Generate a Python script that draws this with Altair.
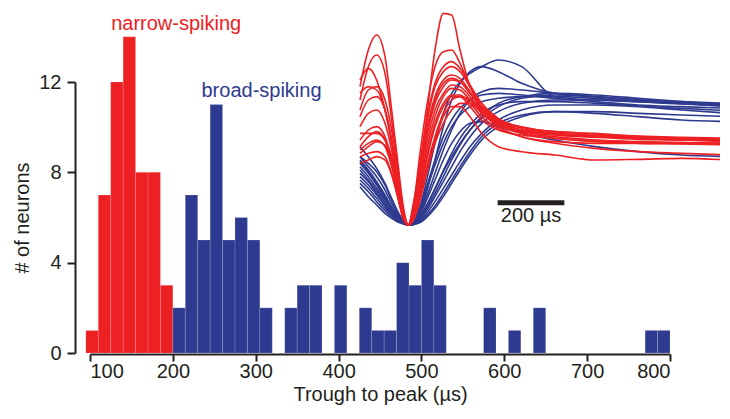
import altair as alt
import pandas as pd

RED = "#ED2024"
BLUE = "#2E3A8F"
FONT = "Liberation Sans"

# ---- histogram data (15 µs bins) ----
BIN_WIDTH = 15
red_bin_start = [95, 110, 125, 140, 155, 170, 185]
red_counts = [1, 7, 12, 14, 8, 8, 3]
blue_bin_start = [200, 215, 230, 245, 260, 275, 290, 305, 335, 350, 365, 395,
                  425, 440, 455, 470, 485, 500, 515, 575, 605, 635, 770, 785]
blue_counts = [2, 7, 5, 11, 5, 6, 5, 2, 2, 3, 3, 3,
               2, 1, 1, 4, 3, 5, 3, 2, 1, 2, 1, 1]

x_ticks = [100, 200, 300, 400, 500, 600, 700, 800]
y_ticks = [0, 4, 8, 12]

# ---- inset waveforms (time in µs relative to trough, amplitude in a.u.) ----
T_US = [-145, -120, -95, -70, -50, -30, -15, 0, 15, 35, 55, 80, 105, 130, 155,
        185, 220, 270, 340, 440, 560, 690, 820, 965]

RED_WAVES = [
    [190, 300, 345, 280, 120, -50, -170, -225, -160, -50, 100, 300, 410, 405, 300, 190, 130, 90, 70, 55, 50, 40, 35, 30],
    [150, 250, 285, 230, 90, -70, -180, -225, -170, -10, 130, 250, 295, 300, 260, 190, 130, 80, 55, 45, 40, 35, 30, 25],
    [210, 245, 210, 120, 20, -100, -190, -225, -180, -50, 80, 190, 235, 250, 235, 190, 140, 90, 60, 50, 45, 40, 35, 32],
    [70, 110, 120, 80, 0, -110, -190, -225, -190, -80, 40, 140, 190, 210, 205, 170, 130, 90, 65, 50, 40, 35, 30, 30],
    [30, 60, 70, 40, -30, -120, -195, -225, -200, -110, 0, 100, 160, 185, 180, 150, 110, 75, 50, 40, 30, 25, 22, 20],
    [0, 20, 30, 10, -50, -135, -200, -225, -205, -130, -30, 70, 130, 160, 160, 130, 90, 60, 45, 35, 25, 20, 18, 15],
    [-20, -10, -5, -20, -70, -145, -205, -225, -210, -150, -60, 30, 100, 130, 130, 100, 50, 10, -5, -15, -30, -28, -25, -30],
    [50, 50, 50, 30, -20, -110, -190, -225, -210, -150, -70, 20, 80, 120, 140, 140, 110, 70, 40, 25, 20, 20, 20, 20],
    [170, 190, 180, 120, 30, -90, -185, -225, -185, -60, 60, 160, 210, 225, 215, 175, 120, 80, 55, 45, 38, 32, 30, 25],
    [10, 40, 55, 30, -40, -125, -198, -225, -195, -95, 20, 120, 170, 195, 190, 160, 115, 80, 58, 48, 42, 38, 35, 32],
    [100, 150, 160, 120, 30, -95, -185, -225, -188, -70, 50, 150, 200, 215, 205, 170, 125, 85, 60, 48, 40, 35, 32, 28],
    [-40, -30, -20, -30, -75, -150, -208, -225, -208, -140, -50, 40, 110, 150, 160, 150, 120, 80, 50, 35, 28, 24, 22, 20],
    [120, 180, 190, 150, 60, -70, -180, -225, -175, -40, 90, 200, 250, 265, 245, 195, 140, 95, 68, 55, 48, 42, 38, 35],
    [-10, 10, 25, 15, -45, -130, -200, -225, -200, -120, -20, 80, 140, 165, 165, 140, 100, 65, 40, 20, 5, -5, -10, -15],
]

BLUE_WAVES = [
    [-20, -50, -80, -120, -160, -195, -215, -225, -215, -170, -90, 20, 110, 170, 205, 230, 250, 270, 250, 160, 150, 145, 140, 135],
    [-50, -80, -115, -150, -180, -205, -218, -225, -220, -200, -165, -115, -65, -20, 20, 60, 95, 130, 155, 165, 160, 150, 140, 130],
    [-90, -115, -145, -175, -195, -212, -220, -225, -223, -212, -190, -155, -115, -75, -35, 10, 50, 90, 120, 135, 135, 130, 120, 110],
    [-20, -40, -65, -105, -150, -190, -212, -225, -212, -170, -110, -30, 40, 90, 125, 150, 165, 170, 165, 155, 145, 135, 130, 125],
    [-110, -140, -165, -190, -205, -217, -222, -225, -224, -218, -202, -175, -140, -100, -60, -15, 30, 70, 100, 115, 110, 100, 90, 85],
    [-30, -60, -95, -135, -170, -200, -216, -225, -218, -185, -125, -30, 70, 150, 200, 235, 250, 235, 200, 170, 160, 150, 145, 140],
    [-70, -95, -130, -165, -190, -210, -220, -225, -222, -205, -175, -130, -80, -30, 15, 60, 100, 140, 160, 170, 165, 155, 145, 135],
    [-40, -70, -105, -145, -180, -205, -218, -225, -220, -195, -150, -90, -30, 20, 55, 80, 85, 70, 50, 30, 10, -5, -15, -20],
    [10, -20, -55, -100, -145, -188, -212, -225, -215, -178, -118, -45, 20, 70, 105, 130, 145, 155, 160, 160, 155, 145, 138, 132],
    [-60, -90, -122, -158, -186, -208, -219, -225, -221, -202, -168, -118, -62, -10, 35, 75, 110, 135, 145, 145, 140, 132, 125, 118],
    [-80, -105, -135, -168, -192, -210, -220, -225, -222, -208, -182, -140, -95, -50, -5, 40, 80, 115, 140, 150, 150, 145, 140, 135],
    [-35, -65, -100, -140, -175, -202, -217, -225, -219, -192, -140, -70, 0, 60, 110, 150, 175, 185, 180, 170, 160, 150, 142, 138],
    [-100, -125, -155, -182, -200, -214, -221, -225, -224, -215, -197, -168, -130, -90, -50, -5, 40, 80, 105, 115, 115, 110, 105, 100],
]

SCALE_BAR_US = [268, 468]
SCALE_BAR_AMP = -158
SCALE_LABEL_AMP = -216

labels_text = ["narrow-spiking", "broad-spiking"]
labels_x = [204, 307]
labels_y = [14.3, 11.35]
labels_type = ["narrow", "broad"]

# ---- build tables ----
hist_rows = []
for s, c in zip(red_bin_start, red_counts):
    hist_rows.append({"start": s, "end": s + BIN_WIDTH, "count": c, "base": 0, "type": "narrow"})
for s, c in zip(blue_bin_start, blue_counts):
    hist_rows.append({"start": s, "end": s + BIN_WIDTH, "count": c, "base": 0, "type": "broad"})
hist_df = pd.DataFrame(hist_rows)

def wave_df(waves, kind):
    rows = []
    for i, w in enumerate(waves):
        for t, a in zip(T_US, w):
            rows.append({"t": t, "a": a, "id": f"{kind}{i}", "order": t})
    return pd.DataFrame(rows)

red_df = wave_df(RED_WAVES, "r")
blue_df = wave_df(BLUE_WAVES, "b")
lab_df = pd.DataFrame({"x": labels_x, "y": labels_y, "text": labels_text, "type": labels_type})
bar_df = pd.DataFrame({"t": [SCALE_BAR_US[0]], "t2": [SCALE_BAR_US[1]], "a": [SCALE_BAR_AMP],
                       "tm": [(SCALE_BAR_US[0] + SCALE_BAR_US[1]) / 2], "al": [SCALE_LABEL_AMP],
                       "label": ["200 µs"]})

color_scale = alt.Scale(domain=["narrow", "broad"], range=[RED, BLUE])
x_main = alt.Scale(domain=[100, 800], nice=False, zero=False)
y_main = alt.Scale(domain=[0, 12], nice=False, zero=False)

bars = alt.Chart(hist_df).mark_bar(strokeWidth=0.5, strokeOpacity=0.3, stroke="white").encode(
    x=alt.X("start:Q", scale=x_main,
            axis=alt.Axis(values=x_ticks, title="Trough to peak (µs)", offset=1,
                          tickSize=7, labelPadding=0, titleBaseline="alphabetic",
                          titleY=46, grid=False)),
    x2="end:Q",
    y=alt.Y("count:Q", scale=y_main,
            axis=alt.Axis(values=y_ticks, title="# of neurons", offset=15,
                          tickSize=8, labelPadding=6, titlePadding=6, grid=False)),
    y2="base:Q",
    color=alt.Color("type:N", scale=color_scale, legend=None),
)

labels = alt.Chart(lab_df).mark_text(font=FONT, fontSize=20, align="center", baseline="alphabetic").encode(
    x=alt.X("x:Q", scale=x_main),
    y=alt.Y("y:Q", scale=y_main),
    text="text:N",
    color=alt.Color("type:N", scale=color_scale, legend=None),
)

main = alt.layer(bars, labels)

x_in = alt.Scale(domain=[-150, 970], range=[268.33, 641.67], nice=False, zero=False)
y_in = alt.Scale(domain=[-225, 450], range=[143, -82], nice=False, zero=False)

blue_lines = alt.Chart(blue_df).mark_line(color=BLUE, strokeWidth=1.6, interpolate="monotone").encode(
    x=alt.X("t:Q", scale=x_in, axis=None),
    y=alt.Y("a:Q", scale=y_in, axis=None),
    detail="id:N",
    order="order:Q",
)
red_lines = alt.Chart(red_df).mark_line(color=RED, strokeWidth=1.6, interpolate="monotone").encode(
    x=alt.X("t:Q", scale=x_in, axis=None),
    y=alt.Y("a:Q", scale=y_in, axis=None),
    detail="id:N",
    order="order:Q",
)
scale_bar = alt.Chart(bar_df).mark_rule(color="#231f20", strokeWidth=5).encode(
    x=alt.X("t:Q", scale=x_in, axis=None),
    x2="t2:Q",
    y=alt.Y("a:Q", scale=y_in, axis=None),
)
scale_text = alt.Chart(bar_df).mark_text(font=FONT, fontSize=20, align="center",
                                         baseline="alphabetic", color="#231f20").encode(
    x=alt.X("tm:Q", scale=x_in, axis=None),
    y=alt.Y("al:Q", scale=y_in, axis=None),
    text="label:N",
)

inset = alt.layer(blue_lines, red_lines, scale_bar, scale_text)

chart = alt.layer(main, inset).resolve_scale(x="independent", y="independent").properties(
    width=580, height=271,
    autosize=alt.AutoSizeParams(type="none"),
    padding={"left": 82, "top": 74, "right": 50, "bottom": 52},
).configure_view(stroke=None).configure_axis(
    domainColor="#231f20", domainWidth=2, tickColor="#231f20", tickWidth=2,
    labelFont=FONT, labelFontSize=20, labelColor="#231f20",
    titleFont=FONT, titleFontSize=20, titleFontWeight="normal", titleColor="#231f20",
)

chart.save("out.html", embed_options={"renderer": "svg", "actions": False})
